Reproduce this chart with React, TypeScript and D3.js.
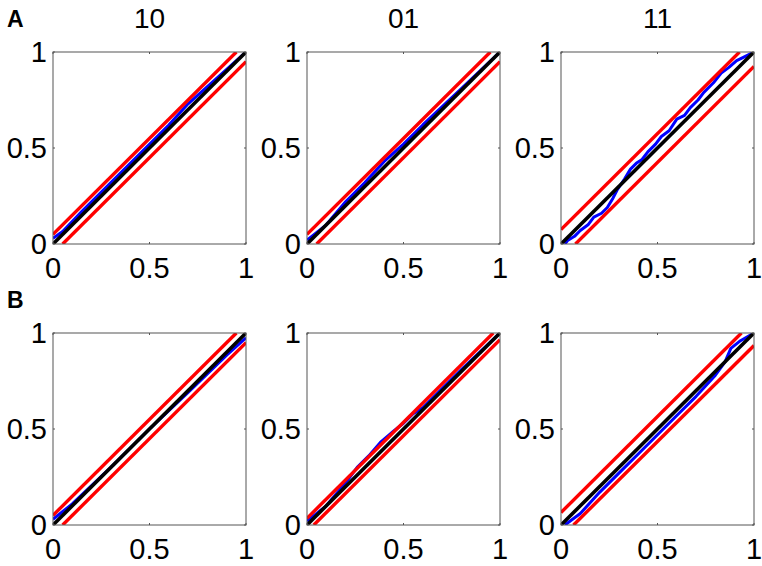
import React from "react";
import * as d3 from "d3";

// column titles and row letters
const colTitles = ["10", "01", "11"];
const rowLabels = ["A", "B"];
const tickVals = [0, 0.5, 1];
const tickText = ["0", "0.5", "1"];

// half-width of the confidence band (red lines) for each panel, row by row
const bandA = [0.05, 0.05, 0.075];
const bandB = [0.05, 0.035, 0.065];

// empirical curves (blue), [model quantile, empirical quantile]
const curveA10 = [[0, 0.03], [0.05, 0.065], [0.15, 0.17], [0.3, 0.32], [0.45, 0.47], [0.6, 0.62], [0.7, 0.73], [0.8, 0.82], [0.9, 0.91], [1, 1]];
const curveA01 = [[0, 0.02], [0.1, 0.1], [0.2, 0.22], [0.3, 0.32], [0.4, 0.43], [0.5, 0.52], [0.6, 0.62], [0.8, 0.81], [1, 1]];
const curveA11 = [[0.02, 0], [0.034, 0.018], [0.07, 0.04], [0.1, 0.07], [0.14, 0.1], [0.17, 0.14], [0.21, 0.16], [0.24, 0.19], [0.27, 0.24], [0.29, 0.28], [0.33, 0.34], [0.36, 0.39], [0.39, 0.42], [0.42, 0.44], [0.45, 0.48], [0.49, 0.52], [0.52, 0.56], [0.56, 0.59], [0.6, 0.65], [0.64, 0.67], [0.67, 0.71], [0.71, 0.75], [0.74, 0.79], [0.79, 0.84], [0.83, 0.89], [0.87, 0.92], [0.91, 0.955], [0.95, 0.975], [1, 1]];
const curveB10 = [[0, 0.03], [0.1, 0.11], [0.3, 0.3], [0.5, 0.5], [0.7, 0.69], [0.9, 0.885], [1, 0.975]];
const curveB01 = [[0, 0.02], [0.1, 0.1], [0.2, 0.22], [0.26, 0.3], [0.32, 0.36], [0.38, 0.43], [0.45, 0.49], [0.5, 0.53], [0.55, 0.58], [0.6, 0.61], [0.7, 0.71], [0.8, 0.81], [1, 1]];
const curveB11 = [[0.02, 0], [0.1, 0.06], [0.2, 0.17], [0.3, 0.27], [0.4, 0.37], [0.5, 0.47], [0.6, 0.57], [0.7, 0.67], [0.8, 0.78], [0.85, 0.85], [0.88, 0.92], [0.93, 0.96], [1, 1]];

const curves = [[curveA10, curveA01, curveA11], [curveB10, curveB01, curveB11]];
const bands = [bandA, bandB];

const colX = [53, 307, 561];
const rowY = [52, 333];
const W = 193, H = 192;
const font = "'Liberation Sans', Arial, sans-serif";

function Panel({ x0, y0, curve, d, title, id }) {
  const x = d3.scaleLinear().domain([0, 1]).range([0, W]);
  const y = d3.scaleLinear().domain([0, 1]).range([H, 0]);
  const line = d3.line().x(p => x(p[0])).y(p => y(p[1]));
  const upper = [[0, d], [1 - d, 1]];
  const lower = [[d, 0], [1, 1 - d]];
  const diag = [[0, 0], [1, 1]];
  return (
    <g transform={`translate(${x0},${y0})`}>
      <clipPath id={id}><rect x={0} y={0} width={W} height={H} /></clipPath>
      <g clipPath={`url(#${id})`}>
        <path d={line(curve)} fill="none" stroke="#0000ff" strokeWidth={3} strokeLinejoin="round" />
        <path d={line(diag)} fill="none" stroke="#000" strokeWidth={3.6} />
        <path d={line(upper)} fill="none" stroke="#ff0000" strokeWidth={3.4} />
        <path d={line(lower)} fill="none" stroke="#ff0000" strokeWidth={3.4} />
      </g>
      <rect x={0} y={0} width={W} height={H} fill="none" stroke="#555" strokeWidth={1} />
      {tickVals.map(t => (
        <g key={"t" + t} stroke="#555" strokeWidth={1}>
          <line x1={x(t)} x2={x(t)} y1={H} y2={H - 2} />
          <line x1={x(t)} x2={x(t)} y1={0} y2={2} />
          <line x1={0} x2={2} y1={y(t)} y2={y(t)} />
          <line x1={W} x2={W - 2} y1={y(t)} y2={y(t)} />
        </g>
      ))}
      {tickVals.map((t, i) => (
        <text key={"xl" + t} x={x(t)} y={H + 34} textAnchor="middle" fontSize={29} fontFamily={font}>{tickText[i]}</text>
      ))}
      {tickVals.map((t, i) => (
        <text key={"yl" + t} x={-6} y={y(t)} dy="0.36em" textAnchor="end" fontSize={29} fontFamily={font}>{tickText[i]}</text>
      ))}
      {title && (
        <text x={W / 2} y={-24} textAnchor="middle" fontSize={28} fontFamily={font}>{title}</text>
      )}
    </g>
  );
}

export default function App() {
  return (
    <svg width={762} height={566} style={{ position: "absolute", left: 0, top: 0, background: "#fff" }}>
      {rowY.map((y0, r) => (
        <g key={"r" + r}>
          <text x={7} y={y0 - 25} fontSize={23} fontWeight="bold" fontFamily={font}>{rowLabels[r]}</text>
          {colX.map((x0, c) => (
            <Panel key={"p" + c} id={`clip${r}${c}`} x0={x0} y0={y0} curve={curves[r][c]} d={bands[r][c]} title={r === 0 ? colTitles[c] : null} />
          ))}
        </g>
      ))}
    </svg>
  );
}
